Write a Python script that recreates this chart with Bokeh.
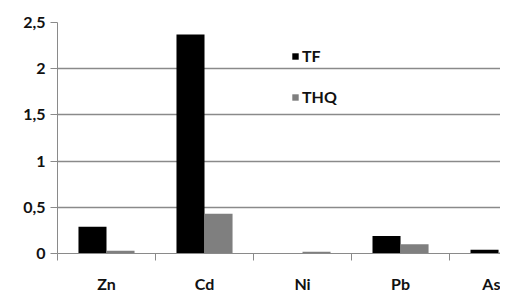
import numpy as np
from bokeh.plotting import figure
from bokeh.models import Range1d, FixedTicker, Legend, LegendItem
from bokeh.embed import file_html
from bokeh.resources import INLINE

elements = ["Zn", "Cd", "Ni", "Pb", "As"]
tf = [0.29, 2.37, 0.0, 0.19, 0.04]
thq = [0.03, 0.43, 0.02, 0.10, 0.01]
y_ticks = [0, 0.5, 1, 1.5, 2, 2.5]
y_labels = ["0", "0,5", "1", "1,5", "2", "2,5"]

FONT = "Lato"
GRID = "#8a8a8a"
TXT = "#111111"

centers = np.arange(len(elements)) + 0.5
bw = 0.286

p = figure(frame_width=443, frame_height=231, output_backend="svg", toolbar_location=None,
           x_range=Range1d(0, 4.52), y_range=Range1d(0, 2.5),
           min_border_left=57, min_border_right=0, min_border_top=22,
           min_border_bottom=34)
p.outline_line_color = None
p.background_fill_color = "white"

r1 = p.vbar(x=centers - bw / 2, top=tf, width=bw, fill_color="black", line_color=None)
r2 = p.vbar(x=centers + bw / 2, top=thq, width=bw, fill_color="#7f7f7f", line_color=None)

# y axis
p.yaxis.ticker = FixedTicker(ticks=y_ticks)
p.yaxis.major_label_overrides = {t: l for t, l in zip(y_ticks, y_labels)}
p.yaxis.major_tick_out = 7
p.yaxis.major_tick_in = 0
p.yaxis.minor_tick_line_color = None
p.yaxis.axis_line_color = GRID
p.yaxis.major_tick_line_color = GRID
p.yaxis.major_label_text_font = FONT
p.yaxis.major_label_text_font_size = "16px"
p.yaxis.major_label_text_font_style = "bold"
p.yaxis.major_label_text_color = TXT
p.yaxis.major_label_standoff = 5

# x axis
p.xaxis.ticker = FixedTicker(ticks=list(centers), minor_ticks=list(range(len(elements))))
p.xaxis.major_label_overrides = {float(c): e for c, e in zip(centers, elements)}
p.xaxis.major_tick_line_color = None
p.xaxis.major_tick_out = 0
p.xaxis.minor_tick_out = 7
p.xaxis.minor_tick_in = 0
p.xaxis.minor_tick_line_color = GRID
p.xaxis.axis_line_color = GRID
p.xaxis.major_label_text_font = FONT
p.xaxis.major_label_text_font_size = "16px"
p.xaxis.major_label_text_font_style = "bold"
p.xaxis.major_label_text_color = TXT
p.xaxis.major_label_standoff = 13

p.xgrid.grid_line_color = None
p.ygrid.ticker = FixedTicker(ticks=y_ticks)
p.ygrid.grid_line_color = GRID
p.ygrid.grid_line_width = 1.5

legend = Legend(items=[LegendItem(label="TF", renderers=[r1]),
                       LegendItem(label="THQ", renderers=[r2])],
                location=(234, 147), padding=0, margin=0, spacing=22,
                glyph_width=8, glyph_height=8, label_standoff=3,
                label_text_font=FONT, label_text_font_size="16px",
                label_text_font_style="bold",
                label_text_color=TXT,
                border_line_color=None, background_fill_alpha=0)
p.add_layout(legend, "center")

open("out.html", "w").write(file_html(p, INLINE))
